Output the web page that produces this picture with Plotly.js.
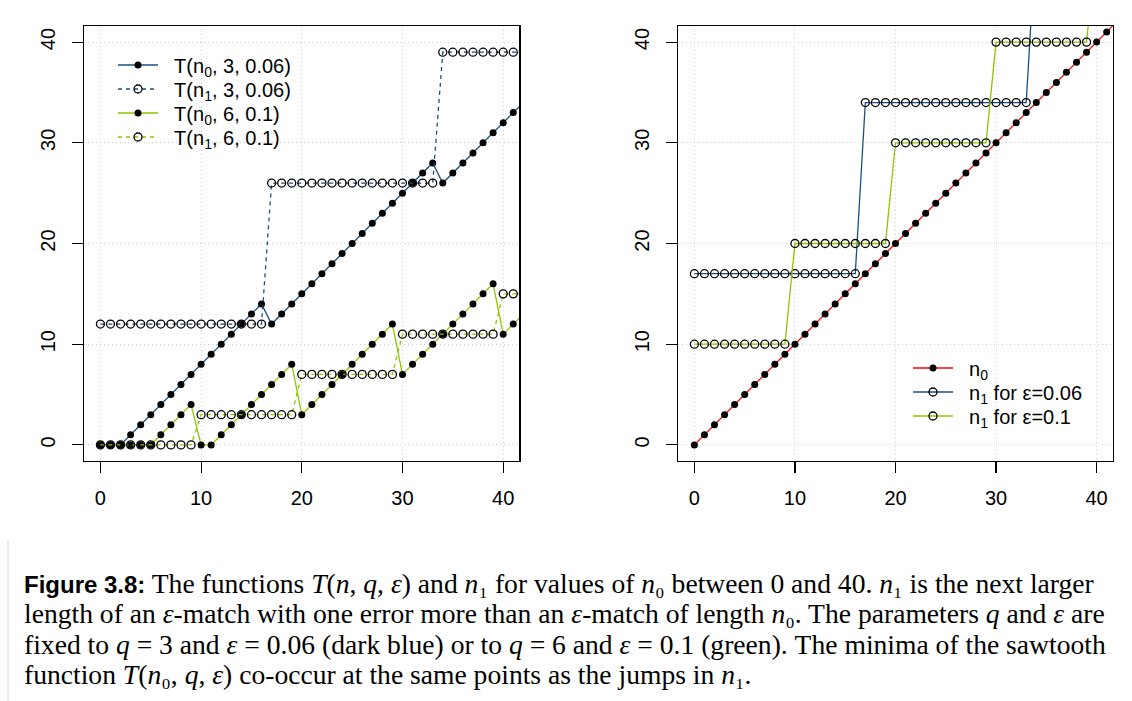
<!DOCTYPE html>
<html>
<head>
<meta charset="utf-8">
<script src="https://cdn.plot.ly/plotly-3.0.1.min.js"></script>
<style>
  html, body { margin: 0; padding: 0; background: #ffffff; }
  #chart { width: 1132px; height: 701px; }
</style>
</head>
<body>
<div id="chart"></div>
<script>
// n0 values
const n0 = [0,1,2,3,4,5,6,7,8,9,10,11,12,13,14,15,16,17,18,19,20,21,22,23,24,25,26,27,28,29,30,31,32,33,34,35,36,37,38,39,40,41,42];

// Left panel: T(n0, 3, 0.06)
const T_n0_q3 = [0,0,0,1,2,3,4,5,6,7,8,9,10,11,12,13,14,12,13,14,15,16,17,18,19,20,21,22,23,24,25,26,27,28,26,27,28,29,30,31,32,33,34];
// T(n1, 3, 0.06)
const T_n1_q3 = [12,12,12,12,12,12,12,12,12,12,12,12,12,12,12,12,12,26,26,26,26,26,26,26,26,26,26,26,26,26,26,26,26,26,39,39,39,39,39,39,39,39,39];
// T(n0, 6, 0.1)
const T_n0_q6 = [0,0,0,0,0,0,1,2,3,4,0,0,1,2,3,4,5,6,7,8,3,4,5,6,7,8,9,10,11,12,7,8,9,10,11,12,13,14,15,16,11,12,13];
// T(n1, 6, 0.1)
const T_n1_q6 = [0,0,0,0,0,0,0,0,0,0,3,3,3,3,3,3,3,3,3,3,7,7,7,7,7,7,7,7,7,7,11,11,11,11,11,11,11,11,11,11,15,15,15];

// Right panel: n1 for eps = 0.06 and eps = 0.1
const n1_eps006 = [17,17,17,17,17,17,17,17,17,17,17,17,17,17,17,17,17,34,34,34,34,34,34,34,34,34,34,34,34,34,34,34,34,34,51,51,51,51,51,51,51,51,51];
const n1_eps01 = [10,10,10,10,10,10,10,10,10,10,20,20,20,20,20,20,20,20,20,20,30,30,30,30,30,30,30,30,30,30,40,40,40,40,40,40,40,40,40,40,50,50,50];

const tickVals = [0,10,20,30,40];
const tickText = ["0","10","20","30","40"];

const leftNames = ["T(n<sub>0</sub>, 3, 0.06)", "T(n<sub>1</sub>, 3, 0.06)", "T(n<sub>0</sub>, 6, 0.1)", "T(n<sub>1</sub>, 6, 0.1)"];
const rightNames = ["n<sub>0</sub>", "n<sub>1</sub> for ε=0.06", "n<sub>1</sub> for ε=0.1"];

const BLUE = "#1d4f7c";
const GREEN = "#8fc400";
const RED = "#ff0000";

const W = 1132, H = 701;
const px = v => v / W;
const py = v => 1 - v / H;
const GAP = "\u00a0\u00a0";

const filledMarker = {symbol: "circle", size: 7, color: "#000000"};
const openMarker = {symbol: "circle-open", size: 8, color: "#000000", line: {width: 1.3, color: "#000000"}};
const DASH = "4px,4px";

const traces = [
  {x: n0, y: T_n0_q3, xaxis: "x", yaxis: "y", type: "scatter", mode: "lines+markers",
   name: GAP + leftNames[0], legend: "legend",
   line: {color: BLUE, width: 1.3}, marker: filledMarker},
  {x: n0, y: T_n1_q3, xaxis: "x", yaxis: "y", type: "scatter", mode: "lines+markers",
   name: GAP + leftNames[1], legend: "legend2",
   line: {color: BLUE, width: 1.3, dash: DASH}, marker: openMarker},
  {x: n0, y: T_n0_q6, xaxis: "x", yaxis: "y", type: "scatter", mode: "lines+markers",
   name: GAP + leftNames[2], legend: "legend3",
   line: {color: GREEN, width: 1.3}, marker: filledMarker},
  {x: n0, y: T_n1_q6, xaxis: "x", yaxis: "y", type: "scatter", mode: "lines+markers",
   name: GAP + leftNames[3], legend: "legend4",
   line: {color: GREEN, width: 1.3, dash: DASH}, marker: openMarker},

  {x: n0, y: n0, xaxis: "x2", yaxis: "y2", type: "scatter", mode: "lines+markers",
   name: GAP + rightNames[0], legend: "legend5",
   line: {color: RED, width: 1.3}, marker: filledMarker},
  {x: n0, y: n1_eps006, xaxis: "x2", yaxis: "y2", type: "scatter", mode: "lines+markers",
   name: GAP + rightNames[1], legend: "legend6",
   line: {color: BLUE, width: 1.3}, marker: openMarker},
  {x: n0, y: n1_eps01, xaxis: "x2", yaxis: "y2", type: "scatter", mode: "lines+markers",
   name: GAP + rightNames[2], legend: "legend7",
   line: {color: GREEN, width: 1.3}, marker: openMarker}
];

const axisFont = {family: "Liberation Sans, Arial, sans-serif", size: 20, color: "#000000"};
const GRIDDASH = "1px,3px";

function xAxis(domain, anchor) {
  return {
    domain: domain, anchor: anchor, range: [-1.6, 41.6], autorange: false,
    tickmode: "array", tickvals: tickVals, ticktext: tickText,
    ticks: "outside", ticklen: 11, tickwidth: 1.2, tickcolor: "#000000",
    showline: true, mirror: true, linecolor: "#000000", linewidth: 1.3,
    showgrid: true, gridcolor: "#cfcfcf", griddash: GRIDDASH, gridwidth: 1,
    zeroline: false, tickfont: axisFont, ticklabelstandoff: 8
  };
}
function yAxis(domain, anchor) {
  return {
    domain: domain, anchor: anchor, range: [-1.6, 41.6], autorange: false,
    tickmode: "array", tickvals: tickVals, ticktext: tickText, tickangle: -90,
    ticks: "outside", ticklen: 11, tickwidth: 1.2, tickcolor: "#000000",
    showline: true, mirror: true, linecolor: "#000000", linewidth: 1.3,
    showgrid: true, gridcolor: "#cfcfcf", griddash: GRIDDASH, gridwidth: 1,
    zeroline: false, tickfont: axisFont, ticklabelstandoff: 9
  };
}

const yDom = [py(461), py(26)];

// caption: one text block, line spacing from base size (1.3 x 23.3 ≈ 30.3px), glyphs sized via span
const capBase = 23.3;
const capFont = {family: "Liberation Serif, Times New Roman, serif", size: capBase, color: "#000000"};
const capLines = [
  '<span style="font-family:Liberation Sans, Arial, sans-serif;font-size:24px"><b>Figure 3.8:</b></span> The functions <i>T</i>(<i>n</i>, <i>q</i>, <i>ε</i>) and <i>n</i>₁ for values of <i>n</i>₀ between 0 and 40. <i>n</i>₁ is the next larger',
  'length of an <i>ε</i>-match with one error more than an <i>ε</i>-match of length <i>n</i>₀. The parameters <i>q</i> and <i>ε</i> are',
  'fixed to <i>q</i> = 3 and <i>ε</i> = 0.06 (dark blue) or to <i>q</i> = 6 and <i>ε</i> = 0.1 (green). The minima of the sawtooth',
  'function <i>T</i>(<i>n</i>₀, <i>q</i>, <i>ε</i>) co-occur at the same points as the jumps in <i>n</i>₁.'
];
const capText = capLines.map(l => '<span style="font-size:27.6px">' + l + '</span>').join('<br>');

const annotations = [{
  text: capText, xref: "paper", yref: "paper", x: px(22), y: py(628.5),
  xanchor: "left", yanchor: "middle", showarrow: false, font: capFont, align: "left"
}];

const legendFont = {family: "Liberation Sans, Arial, sans-serif", size: 20, color: "#000000"};
function leg(xPix, yPix) {
  return {x: px(xPix), y: py(yPix), xanchor: "left", yanchor: "middle",
          bgcolor: "rgba(0,0,0,0)", borderwidth: 0, font: legendFont, itemwidth: 40};
}
const leftLegY = [65, 89, 113, 137];
const rightLegY = [368, 392, 416];

const layout = {
  width: W, height: H,
  margin: {l: 0, r: 0, t: 0, b: 0},
  paper_bgcolor: "#ffffff", plot_bgcolor: "#ffffff",
  xaxis: xAxis([px(84.3), px(519.3)], "y"),
  yaxis: yAxis(yDom, "x"),
  xaxis2: xAxis([px(678.3), px(1112.7)], "y2"),
  yaxis2: yAxis(yDom, "x2"),
  legend: leg(113, leftLegY[0]),
  legend2: leg(113, leftLegY[1]),
  legend3: leg(113, leftLegY[2]),
  legend4: leg(113, leftLegY[3]),
  legend5: leg(908, rightLegY[0]),
  legend6: leg(908, rightLegY[1]),
  legend7: leg(908, rightLegY[2]),
  annotations: annotations,
  shapes: [
    {type: "line", xref: "paper", yref: "paper", x0: px(8), x1: px(8), y0: py(540), y1: py(701),
     line: {color: "#d8d8d8", width: 1}}
  ],
  showlegend: true
};

Plotly.newPlot("chart", traces, layout, {displayModeBar: false, staticPlot: true});
</script>
</body>
</html>
